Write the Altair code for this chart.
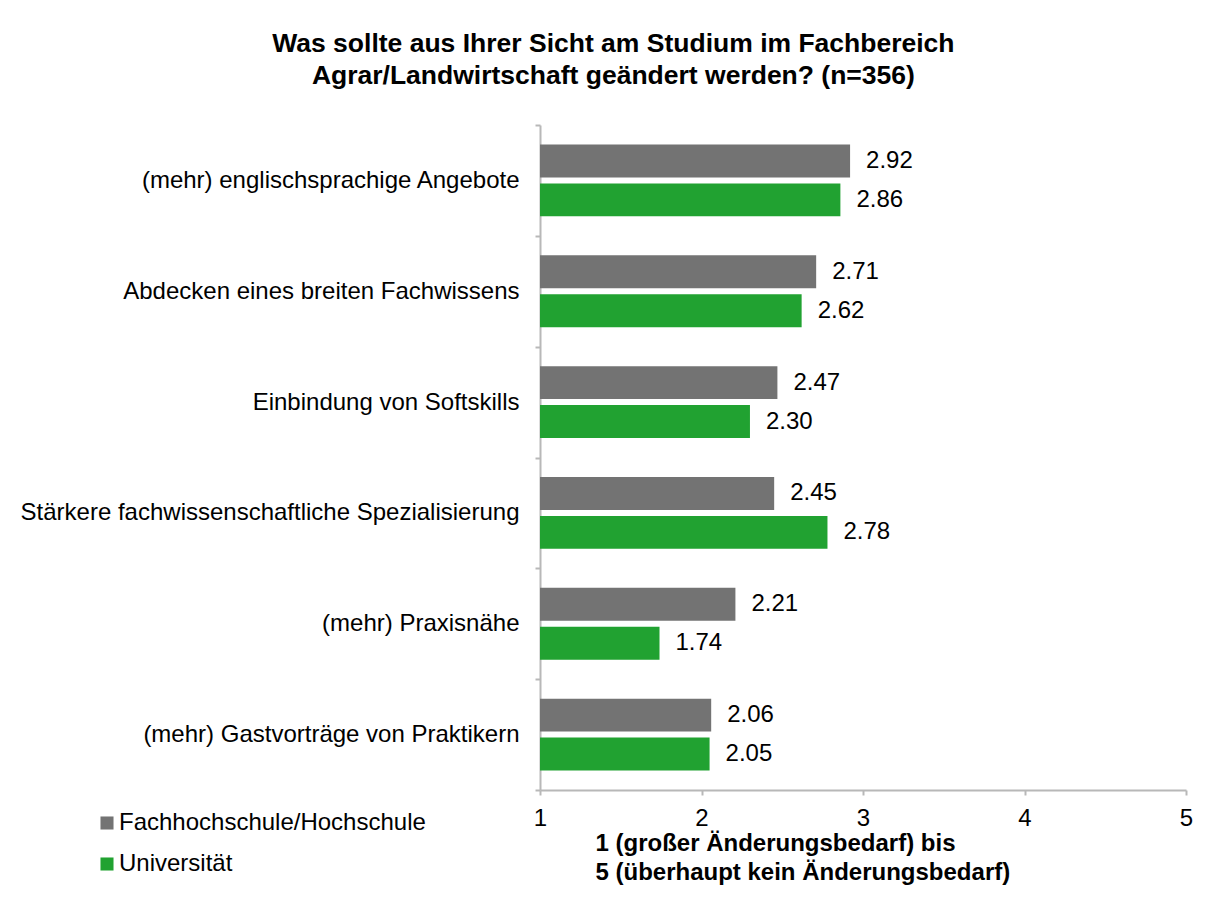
import altair as alt
import pandas as pd

categories = [
    "(mehr) englischsprachige Angebote",
    "Abdecken eines breiten Fachwissens",
    "Einbindung von Softskills",
    "Stärkere fachwissenschaftliche Spezialisierung",
    "(mehr) Praxisnähe",
    "(mehr) Gastvorträge von Praktikern",
]
series = ["Fachhochschule/Hochschule", "Universität"]
fh_values = [2.92, 2.71, 2.47, 2.45, 2.21, 2.06]
uni_values = [2.86, 2.62, 2.30, 2.78, 1.74, 2.05]
colors = ["#737373", "#21a231"]

rows = []
for c, a, b in zip(categories, fh_values, uni_values):
    rows.append({"cat": c, "grp": series[0], "val": a})
    rows.append({"cat": c, "grp": series[1], "val": b})
df = pd.DataFrame(rows)

FONT = "Liberation Sans"
FS = 24
AXC = "#b8b8b8"

y_enc = alt.Y(
    "cat:N", sort=categories, title=None,
    scale=alt.Scale(paddingInner=0, paddingOuter=0),
    axis=alt.Axis(
        tickBand="extent", labelFontSize=FS, labelColor="black", labelFont=FONT,
        labelPadding=16, tickSize=5, tickColor=AXC, domainColor=AXC,
        domainWidth=2, tickWidth=2, labelLimit=800,
    ),
)
yoff = alt.YOffset("grp:N", sort=series,
                   scale=alt.Scale(paddingInner=0.154, paddingOuter=0.5))

x_enc = alt.X(
    "val:Q",
    scale=alt.Scale(domain=[1, 5], zero=False, nice=False),
    axis=alt.Axis(
        values=[1, 2, 3, 4, 5], format="d", grid=False, labelFontSize=FS,
        labelColor="black", labelFont=FONT, labelPadding=11, tickSize=5,
        labelFlush=False,
        tickColor=AXC, domainColor=AXC, domainWidth=2, tickWidth=2,
        title=["1 (großer Änderungsbedarf) bis", "5 (überhaupt kein Änderungsbedarf)"],
        titleFontSize=FS, titleFont=FONT, titleFontWeight="bold", titleColor="black",
        titleAlign="left", titleAnchor="start", titleX=55, titleY=41,
        titleBaseline="top", titleLineHeight=29,
    ),
)

bars = alt.Chart(df).mark_bar().encode(
    y=y_enc,
    yOffset=yoff,
    x=x_enc,
    x2=alt.datum(1),
    color=alt.Color(
        "grp:N", sort=series,
        scale=alt.Scale(domain=series, range=colors),
        legend=alt.Legend(
            title=None, orient="none", legendX=-445, legendY=686,
            labelFontSize=FS, labelFont=FONT, labelColor="black",
            symbolType="square", symbolSize=170, symbolStrokeWidth=0,
            rowPadding=17, labelOffset=0, labelLimit=800,
        ),
    ),
)

labels = alt.Chart(df).mark_text(
    align="left", baseline="middle", dx=16, fontSize=FS, font=FONT, color="black"
).encode(
    y=alt.Y("cat:N", sort=categories),
    yOffset=alt.YOffset("grp:N", sort=series),
    x=alt.X("val:Q"),
    text=alt.Text("val:Q", format=".2f"),
)

chart = (
    alt.layer(bars, labels)
    .properties(
        width=646,
        height=665,
        padding={"left": 12, "top": 22, "right": 20, "bottom": 10},
        title=alt.TitleParams(
            text=["Was sollte aus Ihrer Sicht am Studium im Fachbereich",
                  "Agrar/Landwirtschaft geändert werden? (n=356)"],
            fontSize=26.5, font=FONT, fontWeight="bold", color="black",
            anchor="middle", frame="bounds", lineHeight=32, offset=24, dx=7,
        ),
    )
    .configure(background="white")
    .configure_view(stroke="transparent", strokeWidth=0)
)

chart.save("out.html", embed_options={"renderer": "svg", "actions": False})
